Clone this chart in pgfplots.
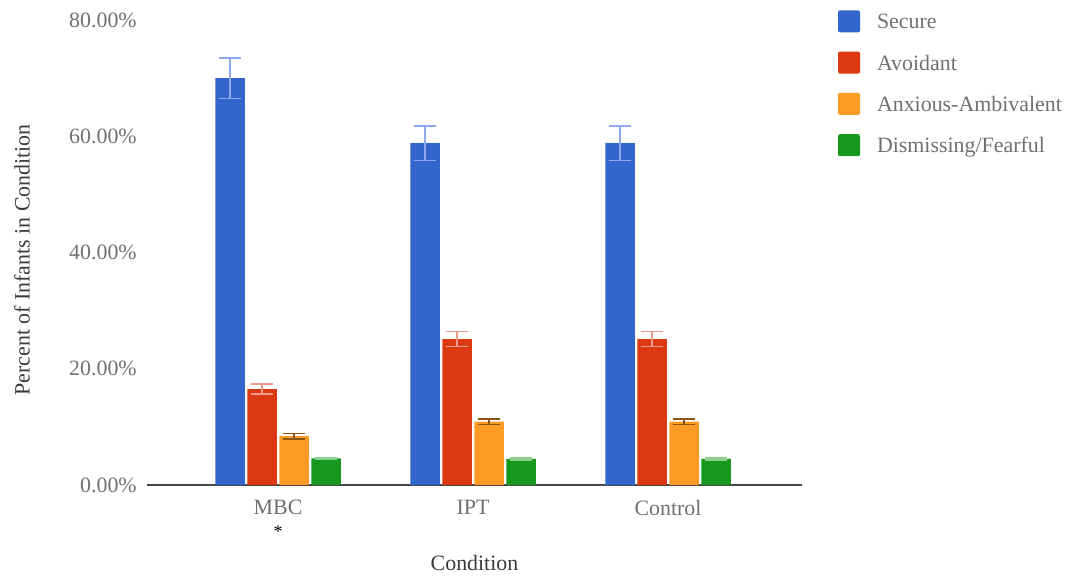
\documentclass[11pt,border=0pt]{standalone}
\usepackage{pgfplots}
\pgfplotsset{compat=1.18}
\usepackage{pgfplotstable}
\usepackage{fontspec}
\setmainfont{Liberation Serif}

\definecolor{cSecure}{HTML}{3366CC}
\definecolor{cAvoid}{HTML}{DC3912}
\definecolor{cAnx}{HTML}{FB9A24}
\definecolor{cDis}{HTML}{16981F}
\definecolor{eSecure}{HTML}{8EA8EA}
\definecolor{eAvoid}{HTML}{EE9B8B}
\definecolor{eAnx}{HTML}{8A5513}
\definecolor{eDis}{HTML}{8ACF8E}
\definecolor{tickgray}{HTML}{707070}
\definecolor{titlegray}{HTML}{3A3A3A}

% attachment classification by condition (percent of infants, with error)
\pgfplotstableread{
x secure secerr avoid avoiderr anx anxerr dis diserr
0 70.0 3.5 16.5 0.85 8.4 0.45 4.6 0.15
1 58.8 3.0 25.1 1.30 10.9 0.50 4.5 0.15
2 58.8 3.0 25.1 1.30 10.9 0.50 4.5 0.15
}\attach

\pgfplotsset{
  attbar/.style={ybar, bar width=14.75pt, bar shift=0pt, draw=none, fill=#1},
  atterr/.style={
    error bars/y dir=both, error bars/y explicit,
    error bars/error mark=|,
    error bars/error bar style={draw=#1, line width=0.8pt},
    error bars/error mark options={draw=#1, line width=0.8pt, mark size=5.4pt}},
}

\begin{document}
\begin{tikzpicture}
\begin{axis}[
  scale only axis, width=327.5pt, height=232.5pt,
  xmin=-0.672, xmax=2.687, ymin=0, ymax=80,
  axis x line*=bottom, axis y line*=left,
  axis line style={-},
  y axis line style={draw=none},
  x axis line style={draw=black!72, line width=0.75pt},
  major tick length=0pt,
  ytick={0,20,40,60,80},
  yticklabels={0.00\%,20.00\%,40.00\%,60.00\%,80.00\%},
  yticklabel style={text=tickgray, xshift=-1.3pt},
  xtick={0,1,2},
  xticklabels={{MBC\\[-2pt]{\footnotesize\color{black}*}},IPT,Control},
  xticklabel style={text=tickgray, align=center, anchor=north, yshift=-3.8pt},
  xlabel={Condition},
  xlabel style={at={(axis description cs:0.5,0)}, anchor=center, yshift=-39pt, text=titlegray},
  ylabel={Percent of Infants in Condition},
  ylabel style={at={(axis description cs:-0.1908,0.484)}, anchor=center, text=titlegray},
  legend cell align=left,
  legend image code/.code={\fill[#1,draw=none,rounded corners=1pt] (0pt,-5.65pt) rectangle (11pt,5.35pt);},
  legend style={
    at={(rel axis cs:1.055,1.0215)}, anchor=north west,
    draw=none, fill=none, inner sep=0pt, outer sep=0pt,
    row sep=9.5pt, column sep=8.5pt,
    nodes={inner sep=0pt, text height=9.35pt, text depth=1.65pt, text=tickgray},
  },
]
\addplot[attbar=cSecure, atterr=eSecure]
  table[x expr=\thisrow{x}-0.246, y=secure, y error=secerr] {\attach};
\addlegendentry{Secure}
\addplot[attbar=cAvoid, atterr=eAvoid]
  table[x expr=\thisrow{x}-0.082, y=avoid, y error=avoiderr] {\attach};
\addlegendentry{Avoidant}
\addplot[attbar=cAnx, atterr=eAnx]
  table[x expr=\thisrow{x}+0.082, y=anx, y error=anxerr] {\attach};
\addlegendentry{Anxious-Ambivalent}
\addplot[attbar=cDis, atterr=eDis]
  table[x expr=\thisrow{x}+0.246, y=dis, y error=diserr] {\attach};
\addlegendentry{Dismissing/Fearful}
\end{axis}
\path (-73.5pt,-45pt) rectangle (462.5pt,242.5pt);
\end{tikzpicture}
\end{document}
